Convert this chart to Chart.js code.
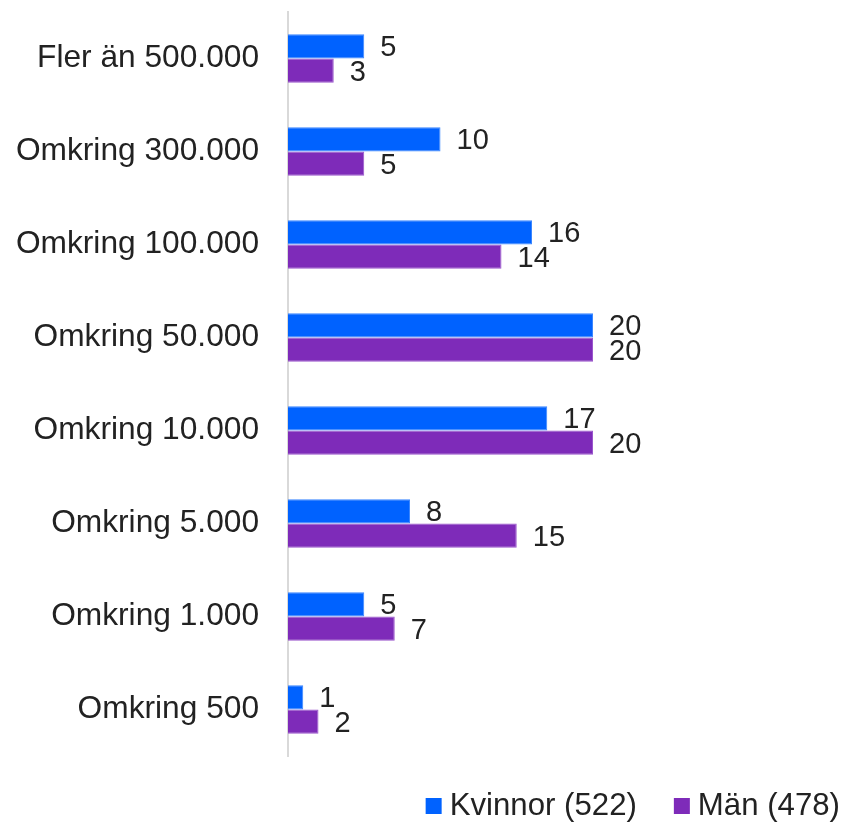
<!DOCTYPE html>
<html>
<head>
<meta charset="utf-8">
<script src="https://cdn.jsdelivr.net/npm/chart.js@4"></script>
<style>
  html, body { margin: 0; padding: 0; background: #fff; }
  #wrap { width: 846px; height: 823px; }
</style>
</head>
<body>
<div id="wrap"><canvas id="sizeChart"></canvas></div>
<script>
// kategorier (uppifrån och ner)
const categories = ['Fler än 500.000', 'Omkring 300.000', 'Omkring 100.000', 'Omkring 50.000',
                    'Omkring 10.000', 'Omkring 5.000', 'Omkring 1.000', 'Omkring 500'];
const kvinnor = [5, 10, 16, 20, 17, 8, 5, 1];
const man = [3, 5, 14, 20, 20, 15, 7, 2];
const seriesNames = ['Kvinnor (522)', 'Män (478)'];

const FONT = "'Liberation Sans', Arial, sans-serif";
const TEXT = '#222';

// värden efter staplarna
const valueLabels = {
    id: 'valueLabels',
    afterDatasetsDraw(chart) {
        const ctx = chart.ctx;
        ctx.save();
        ctx.font = '29px ' + FONT;
        ctx.fillStyle = TEXT;
        ctx.textAlign = 'left';
        ctx.textBaseline = 'middle';
        chart.data.datasets.forEach((ds, i) => {
            chart.getDatasetMeta(i).data.forEach((bar, j) => {
                ctx.fillText(ds.data[j], bar.x + 16, bar.y + 2);
            });
        });
        ctx.restore();
    }
};

// egen legend nere till höger
const bottomLegend = {
    id: 'bottomLegend',
    afterDraw(chart) {
        const ctx = chart.ctx;
        ctx.save();
        ctx.font = '31.2px ' + FONT;
        ctx.textBaseline = 'middle';
        ctx.textAlign = 'left';
        const y = 806;
        let x = 840;
        const items = chart.data.datasets.slice().reverse();
        items.forEach((ds, k) => {
            const w = ctx.measureText(ds.label).width;
            x -= w;
            ctx.fillStyle = TEXT;
            ctx.fillText(ds.label, x, y);
            x -= 8 + 16;
            ctx.fillStyle = ds.backgroundColor;
            ctx.fillRect(x, y - 8, 16, 16);
            x -= 37;
        });
        ctx.restore();
    }
};

const ctx = document.getElementById('sizeChart');
new Chart(ctx, {
    type: 'bar',
    data: {
        labels: categories,
        datasets: [{
            label: seriesNames[0],
            data: kvinnor,
            backgroundColor: '#0062FF',
            borderColor: '#3a86ff',
            borderWidth: 1,
            categoryPercentage: 0.52,
            barPercentage: 1
        }, {
            label: seriesNames[1],
            data: man,
            backgroundColor: '#7E2BB9',
            borderColor: '#9a55cc',
            borderWidth: 1,
            categoryPercentage: 0.52,
            barPercentage: 1
        }]
    },
    options: {
        indexAxis: 'y',
        responsive: true,
        maintainAspectRatio: false,
        animation: false,
        layout: {
            padding: { top: 12, bottom: 67, left: 0, right: 9 }
        },
        plugins: {
            legend: { display: false },
            tooltip: { enabled: false }
        },
        scales: {
            x: {
                display: false,
                min: 0,
                max: 36
            },
            y: {
                grid: { display: false, drawTicks: false },
                border: { display: true, color: '#d9d9d9', width: 2 },
                ticks: {
                    color: TEXT,
                    font: { family: FONT, size: 31.7 },
                    padding: 29
                },
                afterFit(scale) {
                    scale.width = 288;
                    scale.paddingTop = 0;
                    scale.paddingBottom = 0;
                }
            }
        }
    },
    plugins: [valueLabels, bottomLegend]
});
</script>
</body>
</html>
